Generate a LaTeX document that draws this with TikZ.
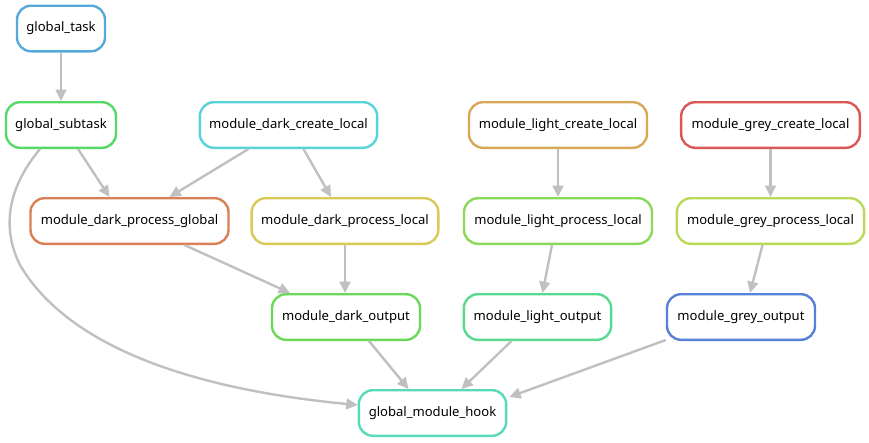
\documentclass[tikz,border=0pt]{standalone}
\usepackage{fontspec}
\setmainfont{Noto Sans}
\usetikzlibrary{arrows.meta,calc}
\definecolor{cTask}{HTML}{57A9D9}
\definecolor{cSub}{HTML}{57D96A}
\definecolor{cDCL}{HTML}{57D3D9}
\definecolor{cLCL}{HTML}{D9A857}
\definecolor{cGCL}{HTML}{D95757}
\definecolor{cDPG}{HTML}{D98057}
\definecolor{cDPL}{HTML}{D9CA57}
\definecolor{cLPL}{HTML}{8AD957}
\definecolor{cGPL}{HTML}{BAD957}
\definecolor{cDO}{HTML}{6AD957}
\definecolor{cLO}{HTML}{57D98F}
\definecolor{cGO}{HTML}{5780D9}
\definecolor{cHook}{HTML}{57D9BA}
\definecolor{edgegrey}{HTML}{C0C0C0}
\begin{document}
\begin{tikzpicture}[x=0.75pt,y=-0.75pt,
  rule/.style={draw=#1,line width=1.8pt,rounded corners=10.5pt,fill=white,
    minimum height=34.2pt,inner xsep=0pt,font=\fontsize{9.8}{11}\selectfont},
  edge/.style={draw=edgegrey,line width=1.8pt,-{Triangle[length=8.5pt,width=8pt]}}]
\useasboundingbox (0,0) rectangle (869,443);
\node[rule=cTask,minimum width=66pt] (gt) at (61,28.5) {global\_task};
\node[rule=cSub,minimum width=82.5pt] (gs) at (61,125) {global\_subtask};
\node[rule=cDCL,minimum width=133pt] (dcl) at (288.5,125) {module\_dark\_create\_local};
\node[rule=cLCL,minimum width=133.5pt] (lcl) at (558,125) {module\_light\_create\_local};
\node[rule=cGCL,minimum width=134pt] (gcl) at (770.5,125) {module\_grey\_create\_local};
\node[rule=cDPG,minimum width=148.5pt] (dpg) at (129.5,221) {module\_dark\_process\_global};
\node[rule=cDPL,minimum width=140pt] (dpl) at (345,221) {module\_dark\_process\_local};
\node[rule=cLPL,minimum width=141pt] (lpl) at (558,221) {module\_light\_process\_local};
\node[rule=cGPL,minimum width=140.5pt] (gpl) at (770.5,221) {module\_grey\_process\_local};
\node[rule=cDO,minimum width=111pt] (do) at (346,317) {module\_dark\_output};
\node[rule=cLO,minimum width=110.5pt] (lo) at (537.5,317) {module\_light\_output};
\node[rule=cGO,minimum width=111pt] (go) at (741,317) {module\_grey\_output};
\node[rule=cHook,minimum width=110.5pt] (hook) at (432.5,413) {global\_module\_hook};
\draw[edge] (gt.south) -- (gs.north);
\draw[edge] ($(gs.south)+(17,0)$) -- ($(dpg.north)+(-20,0)$);
\draw[edge] ($(gs.south)+(-21,0)$) .. controls (10,185) and (0,225) .. (20,265)
   .. controls (70,350) and (200,390) .. ($(hook.west)+(0,-8)$);
\draw[edge] ($(dcl.south)+(-40,0)$) -- ($(dpg.north)+(40,0)$);
\draw[edge] ($(dcl.south)+(15,0)$) -- ($(dpl.north)+(-14,0)$);
\draw[edge] ($(dpg.south)+(55,0)$) -- ($(do.north)+(-56,0)$);
\draw[edge] (dpl.south) -- ($(do.north)+(-1,0)$);
\draw[edge] (lcl.south) -- (lpl.north);
\draw[edge] ($(lpl.south)+(-6,0)$) -- ($(lo.north)+(5,0)$);
\draw[edge] (gcl.south) -- (gpl.north);
\draw[edge] ($(gpl.south)+(-8,0)$) -- ($(go.north)+(9,0)$);
\draw[edge] ($(do.south)+(23,0)$) -- ($(hook.north)+(-24,0)$);
\draw[edge] ($(lo.south)+(-26,0)$) -- ($(hook.north)+(29,0)$);
\draw[edge] ($(go.south west)+(0,-1)$) -- ($(hook.north east)+(2,8)$);
\end{tikzpicture}
\end{document}
